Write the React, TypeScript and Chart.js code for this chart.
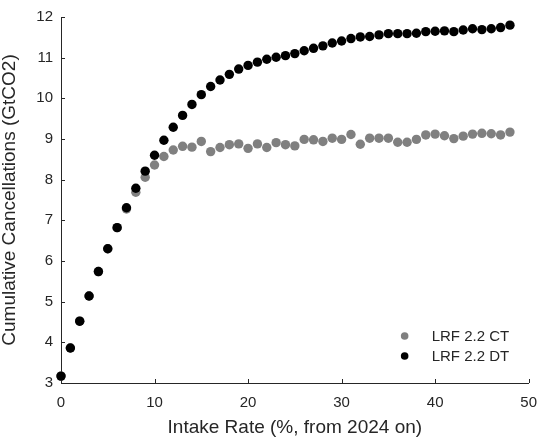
import React, { useEffect, useRef } from "react";
import { Chart, registerables } from "chart.js";

Chart.register(...registerables);

const intakeRates = [
  0, 1, 2, 3, 4, 5, 6, 7, 8, 9, 10, 11, 12, 13, 14, 15, 16, 17, 18, 19, 20, 21, 22, 23, 24,
  25, 26, 27, 28, 29, 30, 31, 32, 33, 34, 35, 36, 37, 38, 39, 40, 41, 42, 43, 44, 45, 46, 47, 48,
];

const lrfCT = [
  3.17, 3.86, 4.52, 5.14, 5.74, 6.3, 6.82, 7.28, 7.69, 8.06,
  8.36, 8.57, 8.73, 8.82, 8.8, 8.94, 8.69, 8.79, 8.86, 8.88,
  8.77, 8.88, 8.79, 8.91, 8.86, 8.83, 8.99, 8.98, 8.94, 9.02,
  8.99, 9.11, 8.87, 9.02, 9.02, 9.02, 8.92, 8.92, 8.99, 9.1,
  9.12, 9.08, 9.01, 9.07, 9.12, 9.14, 9.13, 9.1, 9.17,
];

const lrfDT = [
  3.17, 3.86, 4.52, 5.14, 5.74, 6.3, 6.82, 7.31, 7.79, 8.21,
  8.6, 8.97, 9.29, 9.58, 9.85, 10.09, 10.29, 10.45, 10.59, 10.72,
  10.81, 10.89, 10.96, 11.01, 11.05, 11.1, 11.17, 11.23, 11.29, 11.36,
  11.41, 11.47, 11.51, 11.52, 11.56, 11.59, 11.59, 11.59, 11.6, 11.64,
  11.65, 11.66, 11.64, 11.68, 11.71, 11.69, 11.71, 11.74, 11.8,
];

const seriesLabels = ["LRF 2.2 CT", "LRF 2.2 DT"];
const seriesColors = ["#808080", "#000000"];

const xTitle = "Intake Rate (%, from 2024 on)";
const yTitle = "Cumulative Cancellations (GtCO2)";

const FONT = "'Liberation Sans', Arial, Helvetica, sans-serif";
const AXIS = "#262626";

const insideTicks = {
  id: "insideTicks",
  beforeDatasetsDraw(chart: any) {
    const { ctx } = chart;
    const xs = chart.scales.x;
    const ys = chart.scales.y;
    ctx.save();
    ctx.strokeStyle = AXIS;
    ctx.lineWidth = 1;
    ctx.beginPath();
    xs.ticks.forEach((t: any) => {
      const px = Math.round(xs.getPixelForValue(t.value)) + 0.5;
      ctx.moveTo(px, ys.bottom);
      ctx.lineTo(px, ys.bottom - 4);
    });
    ys.ticks.forEach((t: any) => {
      const py = Math.round(ys.getPixelForValue(t.value)) + 0.5;
      ctx.moveTo(xs.left, py);
      ctx.lineTo(xs.left + 4, py);
    });
    ctx.stroke();
    ctx.restore();
  },
};

const insideLegend = {
  id: "insideLegend",
  afterDraw(chart: any) {
    const { ctx, chartArea } = chart;
    const items = seriesLabels.map((label, i) => ({ label, color: seriesColors[i] }));
    const rowH = 20;
    const markerX = chartArea.right - 124;
    const textX = markerX + 27;
    const startY = chartArea.bottom - 47;
    ctx.save();
    ctx.font = `15px ${FONT}`;
    ctx.textBaseline = "middle";
    ctx.textAlign = "left";
    items.forEach((it, i) => {
      const y = startY + i * rowH;
      ctx.fillStyle = it.color;
      ctx.beginPath();
      ctx.arc(markerX, y, 3.8, 0, Math.PI * 2);
      ctx.fill();
      ctx.fillStyle = AXIS;
      ctx.fillText(it.label, textX, y + 1);
    });
    ctx.restore();
  },
};

export default function App() {
  const canvasRef = useRef<HTMLCanvasElement | null>(null);

  useEffect(() => {
    if (!canvasRef.current) return;
    const chart = new Chart(canvasRef.current, {
      type: "scatter",
      data: {
        datasets: [
          {
            label: seriesLabels[0],
            data: intakeRates.map((x, i) => ({ x, y: lrfCT[i] })),
            backgroundColor: seriesColors[0],
            borderColor: seriesColors[0],
            pointRadius: 4.7,
            borderWidth: 0,
            order: 2,
            clip: false as any,
          },
          {
            label: seriesLabels[1],
            data: intakeRates.map((x, i) => ({ x, y: lrfDT[i] })),
            backgroundColor: seriesColors[1],
            borderColor: seriesColors[1],
            pointRadius: 4.7,
            borderWidth: 0,
            order: 1,
            clip: false as any,
          },
        ],
      },
      options: {
        responsive: false,
        animation: false,
        devicePixelRatio: 1,
        layout: { autoPadding: false, padding: { top: 9.5, right: 11, left: 0, bottom: 0 } },
        plugins: {
          legend: { display: false },
          tooltip: { enabled: false },
        },
        scales: {
          x: {
            type: "linear",
            min: 0,
            max: 50,
            ticks: {
              stepSize: 10,
              color: AXIS,
              padding: 11,
              font: { family: FONT, size: 15 },
              maxRotation: 0,
            },
            grid: { display: true, drawOnChartArea: false, drawTicks: false, color: "rgba(0,0,0,0)" },
            border: { display: true, color: AXIS, width: 1 },
            title: {
              display: true,
              text: xTitle,
              color: AXIS,
              font: { family: FONT, size: 19, lineHeight: 1 },
              padding: { top: 0, bottom: 5.5 },
            },
            afterFit: (s: any) => {
              s.height = 60;
            },
          },
          y: {
            type: "linear",
            min: 3,
            max: 12,
            ticks: {
              stepSize: 1,
              color: AXIS,
              padding: 8,
              font: { family: FONT, size: 15 },
            },
            grid: { display: true, drawOnChartArea: false, drawTicks: false, color: "rgba(0,0,0,0)" },
            border: { display: true, color: AXIS, width: 1 },
            title: {
              display: true,
              text: yTitle,
              color: AXIS,
              font: { family: FONT, size: 19, lineHeight: 1 },
              padding: { top: 0, bottom: 0 },
            },
            afterFit: (s: any) => {
              s.width = 61;
            },
          },
        },
      },
      plugins: [insideTicks, insideLegend],
    });
    return () => chart.destroy();
  }, []);

  return (
    <div style={{ position: "absolute", left: 0, top: 0, width: 548, height: 443, background: "#fff" }}>
      <canvas ref={canvasRef} width={548} height={443} />
    </div>
  );
}
